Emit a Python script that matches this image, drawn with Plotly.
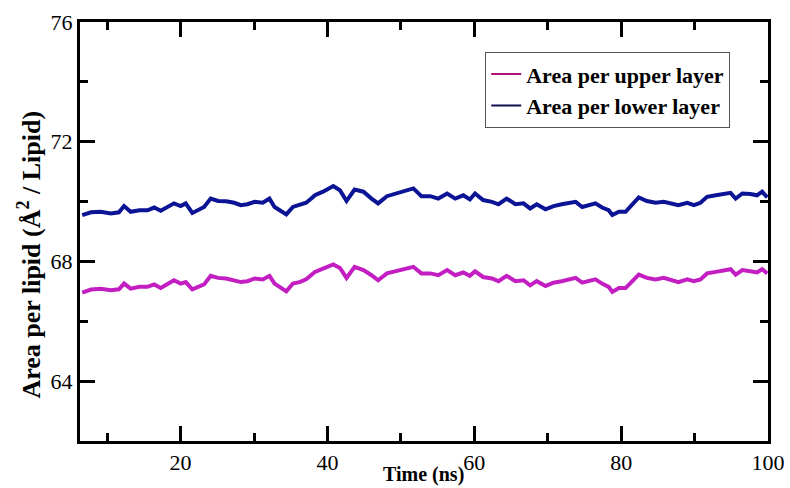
import plotly.graph_objects as go

# Simulation time (ns)
time_ns = [6.6, 7.8, 9.1, 10.5, 11.6, 12.3, 13.2, 14.4, 15.5, 16.4, 17.3, 18.2, 19.1,
           20.0, 20.7, 21.6, 22.6, 23.2, 24.1, 25.1, 26.2, 27.3, 28.2, 29.1, 30.1,
           31.2, 32.1, 32.8, 33.5, 34.4, 35.3, 36.2, 37.1, 37.8, 38.3, 39.4, 40.8,
           41.7, 42.6, 43.7, 44.9, 46.0, 46.9, 48.1, 49.2, 50.3, 51.7, 52.8, 54.0,
           55.1, 56.3, 57.4, 58.5, 59.4, 60.1, 61.2, 62.4, 63.3, 64.4, 65.6, 66.7,
           67.6, 68.5, 69.7, 70.8, 71.9, 72.8, 73.8, 74.7, 75.6, 76.5, 77.4, 78.3,
           78.8, 79.7, 80.6, 81.5, 82.4, 83.5, 84.7, 85.8, 86.9, 87.8, 89.0, 89.9,
           90.8, 91.7, 92.9, 94.0, 94.9, 95.6, 96.5, 97.6, 98.5, 99.2, 99.9]

# Area per lipid, upper leaflet (Å^2 / lipid)
upper_layer = [66.96, 67.06, 67.09, 67.04, 67.07, 67.26, 67.09, 67.15, 67.15, 67.23, 67.11,
               67.26, 67.37, 67.26, 67.31, 67.07, 67.18, 67.23, 67.52, 67.45, 67.43, 67.37,
               67.31, 67.34, 67.43, 67.40, 67.52, 67.26, 67.15, 67.00, 67.26, 67.31, 67.40,
               67.54, 67.65, 67.76, 67.90, 67.78, 67.45, 67.82, 67.71, 67.54, 67.37, 67.60,
               67.67, 67.74, 67.82, 67.60, 67.60, 67.54, 67.71, 67.54, 67.63, 67.52, 67.67,
               67.48, 67.43, 67.34, 67.52, 67.34, 67.37, 67.20, 67.34, 67.18, 67.29, 67.34,
               67.40, 67.45, 67.29, 67.34, 67.40, 67.26, 67.15, 66.98, 67.11, 67.11, 67.34,
               67.56, 67.45, 67.40, 67.45, 67.37, 67.31, 67.40, 67.34, 67.40, 67.60, 67.65,
               67.71, 67.74, 67.56, 67.71, 67.67, 67.63, 67.74, 67.60]

# Area per lipid, lower leaflet (Å^2 / lipid)
lower_layer = [69.55, 69.64, 69.66, 69.60, 69.64, 69.85, 69.66, 69.71, 69.71, 69.80, 69.69,
               69.82, 69.94, 69.85, 69.94, 69.62, 69.74, 69.82, 70.10, 70.02, 70.01, 69.96,
               69.88, 69.91, 69.99, 69.96, 70.10, 69.82, 69.71, 69.57, 69.82, 69.88, 69.96,
               70.10, 70.21, 70.33, 70.52, 70.38, 70.02, 70.40, 70.33, 70.10, 69.94, 70.18,
               70.25, 70.33, 70.44, 70.18, 70.18, 70.10, 70.27, 70.10, 70.21, 70.07, 70.27,
               70.05, 69.99, 69.91, 70.10, 69.91, 69.94, 69.77, 69.91, 69.74, 69.85, 69.91,
               69.94, 69.99, 69.82, 69.88, 69.94, 69.80, 69.71, 69.55, 69.66, 69.66, 69.88,
               70.14, 70.02, 69.96, 69.99, 69.94, 69.88, 69.96, 69.88, 69.96, 70.16, 70.21,
               70.27, 70.29, 70.10, 70.27, 70.25, 70.21, 70.33, 70.14]

x_ticks = [20, 40, 60, 80, 100]
y_ticks = [64, 68, 72, 76]

UPPER_COLOR = "#c21ec2"
LOWER_COLOR = "#0c1496"
SERIF = "Liberation Serif, Times New Roman, serif"

fig = go.Figure()

fig.add_trace(go.Scatter(x=time_ns, y=upper_layer, mode="lines",
                         line=dict(color=UPPER_COLOR, width=4),
                         name="Area per upper layer", showlegend=False))
fig.add_trace(go.Scatter(x=time_ns, y=lower_layer, mode="lines",
                         line=dict(color=LOWER_COLOR, width=4),
                         name="Area per lower layer", showlegend=False))

# thin-line legend entries
fig.add_trace(go.Scatter(x=[None], y=[None], mode="lines",
                         line=dict(color="#b0107a", width=2),
                         name="Area per upper layer"))
fig.add_trace(go.Scatter(x=[None], y=[None], mode="lines",
                         line=dict(color="#101050", width=2),
                         name="Area per lower layer"))

axis_common = dict(
    showline=True, linecolor="black", linewidth=3, mirror="ticks",
    ticks="inside", ticklen=15, tickwidth=3, tickcolor="black",
    showgrid=False, zeroline=False, automargin=False,
    tickfont=dict(family=SERIF, size=22, color="black"),
)

fig.update_xaxes(
    range=[6.3, 100], tickvals=x_ticks,
    minor=dict(ticks="inside", ticklen=8, tickwidth=3, tickcolor="black",
               dtick=10, tick0=0, showgrid=False),
    **axis_common,
)
fig.update_yaxes(
    range=[62, 76], tickvals=y_ticks, ticklabelstandoff=0,
    minor=dict(ticks="inside", ticklen=8, tickwidth=3, tickcolor="black",
               dtick=2, tick0=0, showgrid=False),
    **axis_common,
)

# axis titles, placed as annotations
fig.add_annotation(
    text="<b>Time (ns)</b>", xref="paper", yref="paper", x=0.499, y=-0.0811,
    xanchor="center", yanchor="middle", showarrow=False, borderpad=0,
    font=dict(family=SERIF, size=20, color="black"),
)
fig.add_annotation(
    text="<b>Area per lipid (Å<sup>2</sup> / Lipid)</b>",
    textangle=-90, xref="paper", yref="paper", x=-0.0727, y=0.445,
    xanchor="center", yanchor="middle", showarrow=False,
    font=dict(family=SERIF, size=26, color="black"),
)

fig.update_layout(
    width=790, height=488,
    margin=dict(l=80, r=22, t=22, b=47),
    paper_bgcolor="white", plot_bgcolor="white",
    legend=dict(x=0.589, y=0.928, xanchor="left", yanchor="top",
                bgcolor="white", bordercolor="#555555", borderwidth=1,
                font=dict(family=SERIF, size=22, color="black", weight="bold"),
                itemwidth=30, tracegroupgap=0),
)

fig.write_html("out.html")
